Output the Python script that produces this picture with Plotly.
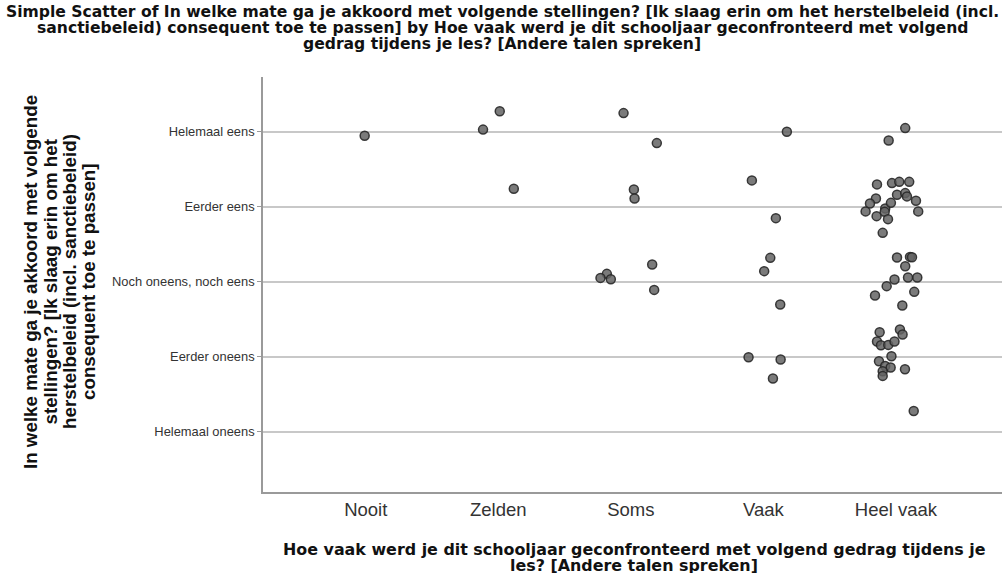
import plotly.graph_objects as go

# Frequency categories (x) and agreement categories (y)
freq_labels = ["Nooit", "Zelden", "Soms", "Vaak", "Heel vaak"]
agree_labels = ["Helemaal oneens", "Eerder oneens", "Noch oneens, noch eens",
                "Eerder eens", "Helemaal eens"]

# Jittered respondent positions per frequency category (x = category + jitter, y = answer + jitter)
nooit_x = [0.992]
nooit_y = [4.947]

zelden_x = [1.885, 2.011, 2.117]
zelden_y = [5.029, 5.273, 4.240]

soms_x = [2.945, 3.196, 3.023, 3.028, 3.161, 2.819, 2.771, 2.849, 3.176]
soms_y = [5.249, 4.849, 4.232, 4.112, 3.232, 3.107, 3.053, 3.036, 2.893]

vaak_x = [3.913, 4.177, 4.094, 4.052, 4.006, 4.127, 3.888, 4.130, 4.072]
vaak_y = [4.352, 5.000, 3.849, 3.320, 3.143, 2.699, 1.996, 1.965, 1.712]

heel_vaak_x = [5.070, 4.945, 4.857, 4.970, 5.025, 5.100, 4.849, 4.804, 4.771, 4.854,
               4.919, 4.915, 4.962, 5.008, 5.070, 5.083, 5.151, 5.168, 4.940, 4.900,
               5.008, 5.106, 5.121, 5.070, 4.989, 5.091, 5.161, 4.930, 4.842, 5.138,
               5.048, 4.877, 5.030, 5.050, 4.857, 4.887, 4.942, 4.989, 4.872, 4.966,
               4.919, 4.960, 4.900, 4.900, 5.068, 5.134]
heel_vaak_y = [5.049, 4.884, 4.299, 4.316, 4.333, 4.333, 4.112, 4.045, 3.939, 3.876,
               3.979, 3.933, 4.053, 4.160, 4.183, 4.139, 4.080, 3.939, 3.836, 3.653,
               3.325, 3.333, 3.329, 3.209, 3.032, 3.059, 3.059, 2.943, 2.819, 2.867,
               2.685, 2.329, 2.365, 2.299, 2.205, 2.156, 2.160, 2.205, 1.943, 2.009,
               1.880, 1.859, 1.809, 1.747, 1.836, 1.280]

title_lines = [
    "Simple Scatter of In welke mate ga je akkoord met volgende stellingen? [Ik slaag erin om het herstelbeleid (incl.",
    "sanctiebeleid) consequent toe te passen] by Hoe vaak werd je dit schooljaar geconfronteerd met volgend",
    "gedrag tijdens je les? [Andere talen spreken]",
]
y_title_lines = [
    "In welke mate ga je akkoord met volgende",
    "stellingen? [Ik slaag erin om het",
    "herstelbeleid (incl. sanctiebeleid)",
    "consequent toe te passen]",
]
x_title_lines = [
    "Hoe vaak werd je dit schooljaar geconfronteerd met volgend gedrag tijdens je",
    "les? [Andere talen spreken]",
]

all_x = nooit_x + zelden_x + soms_x + vaak_x + heel_vaak_x
all_y = nooit_y + zelden_y + soms_y + vaak_y + heel_vaak_y

fig = go.Figure()
fig.add_trace(go.Scatter(
    x=all_x, y=all_y, mode="markers",
    marker=dict(size=9, color="rgba(100,100,100,0.85)",
                line=dict(color="rgba(40,40,40,0.9)", width=1.5)),
    hoverinfo="skip", showlegend=False,
))

W, H = 1002, 573
L, R, T, B = 263, 0, 77, 81
plot_w = W - L - R
plot_h = H - T - B


def px_to_paper_x(px):
    return (px - L) / plot_w


def px_to_paper_y(py):
    return (H - B - py) / plot_h


annotations = []
# Chart title, one annotation per line for tight line spacing
for line, py in zip(title_lines, [12, 28, 44]):
    annotations.append(dict(
        text="<b>" + line + "</b>", xref="paper", yref="paper",
        x=px_to_paper_x(502), y=px_to_paper_y(py),
        xanchor="center", yanchor="middle", showarrow=False,
        font=dict(family="DejaVu Sans", size=15.6, color="#111"),
    ))
# Y axis title, rotated
for line, px in zip(y_title_lines, [30, 49.5, 69, 88]):
    annotations.append(dict(
        text="<b>" + line + "</b>", xref="paper", yref="paper",
        x=px_to_paper_x(px), y=px_to_paper_y(282),
        xanchor="center", yanchor="middle", textangle=-90, showarrow=False,
        font=dict(family="Liberation Sans", size=18.75, color="#111"),
    ))
# X axis title
for line, py in zip(x_title_lines, [549, 565]):
    annotations.append(dict(
        text="<b>" + line + "</b>", xref="paper", yref="paper",
        x=px_to_paper_x(634), y=px_to_paper_y(py),
        xanchor="center", yanchor="middle", showarrow=False,
        font=dict(family="DejaVu Sans", size=15.9, color="#111"),
    ))

fig.update_layout(
    width=W, height=H,
    margin=dict(l=L, r=R, t=T, b=B, pad=0),
    paper_bgcolor="white", plot_bgcolor="white",
    annotations=annotations,
    xaxis=dict(
        range=[0.225, 5.8], tickvals=[1, 2, 3, 4, 5], ticktext=freq_labels,
        showgrid=False, zeroline=False, showline=True, linecolor="#9a9a9a",
        linewidth=1.5, ticks="", ticklen=0,
        tickfont=dict(family="Liberation Sans", size=18.5, color="#333"),
    ),
    yaxis=dict(
        range=[0.2, 5.73], tickvals=[1, 2, 3, 4, 5], ticktext=agree_labels,
        showgrid=True, gridcolor="#c8c8c8", gridwidth=2, zeroline=False,
        showline=True, linecolor="#9a9a9a", linewidth=1.5,
        ticks="outside", ticklen=4, tickcolor="#9a9a9a",
        tickfont=dict(family="Liberation Sans", size=12.9, color="#333"),
    ),
)

fig.write_html("out.html")
